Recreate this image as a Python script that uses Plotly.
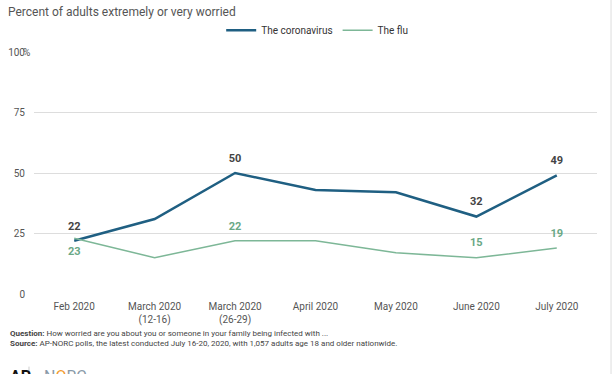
import plotly.graph_objects as go

categories = ["Feb 2020", "March 2020<br>(12-16)", "March 2020<br>(26-29)", "April 2020",
              "May 2020", "June 2020", "July 2020"]
coronavirus = [22, 31, 50, 43, 42, 32, 49]
flu = [23, 15, 22, 22, 17, 15, 19]
corona_labels = ["22", "", "50", "", "", "32", "49"]
flu_labels = ["23", "", "22", "", "", "15", "19"]
flu_label_pos = ["bottom center", "top center", "top center", "top center",
                 "top center", "top center", "top center"]
y_ticks = [0, 25, 50, 75, 100]
y_ticktext = ["0", "25", "50", "75", "100"]
y_max = 100

FONT = "Roboto, Arial, sans-serif"
BLUE = "#1f5f82"
GREEN = "#7db797"

fig = go.Figure()
fig.add_trace(go.Scatter(
    x=categories, y=coronavirus, mode="lines+text+markers", name="The coronavirus",
    line=dict(color=BLUE, width=2.5),
    marker=dict(size=12, color="rgba(0,0,0,0)"),
    text=corona_labels, textposition="top center",
    textfont=dict(family=FONT, size=11, color="#444444", weight="bold"),
    hoverinfo="skip"))
fig.add_trace(go.Scatter(
    x=categories, y=flu, mode="lines+text+markers", name="The flu",
    line=dict(color=GREEN, width=1.5),
    marker=dict(size=12, color="rgba(0,0,0,0)"),
    text=flu_labels, textposition=flu_label_pos,
    textfont=dict(family=FONT, size=11, color="#6aa886", weight="bold"),
    hoverinfo="skip"))

fig.update_layout(
    width=612, height=374,
    margin=dict(l=34, r=15, t=52, b=80, autoexpand=False),
    paper_bgcolor="white", plot_bgcolor="white",
    font=dict(family=FONT, size=10, color="#555555"),
    showlegend=True,
    legend=dict(orientation="h", x=0.503, xanchor="center", y=1.03, yanchor="bottom",
                font=dict(family=FONT, size=10, color="#333333"),
                itemwidth=30, traceorder="normal"),
    xaxis=dict(type="category", range=[-0.5, 6.5], showgrid=False, zeroline=False,
               showline=False, ticks="", automargin=False, ticklabelstandoff=5,
               tickfont=dict(size=10, color="#555555")),
    yaxis=dict(range=[0, y_max], tickvals=y_ticks, ticktext=y_ticktext,
               showgrid=True, gridcolor="#dddddd", gridwidth=1, zeroline=False,
               showline=False, ticks="", ticklabelstandoff=8, automargin=False,
               tickfont=dict(size=10, color="#555555")),
    title=dict(text="Percent of adults extremely or very worried", x=0.013, xanchor="left",
               yref="container", y=0.968, yanchor="middle",
               font=dict(family=FONT, size=12, color="#555555")),
)

fig.add_annotation(xref="paper", yref="y", x=-0.0165, y=y_max, xanchor="left", yanchor="middle",
                   showarrow=False, text="%", font=dict(family=FONT, size=10, color="#555555"),
                   xshift=-4)
fig.add_annotation(xref="paper", yref="paper", x=-0.046, y=-0.135, xanchor="left", yanchor="top",
                   showarrow=False, align="left",
                   text="<b>Question:</b> How worried are you about you or someone in your family being infected with ...<br>"
                        "<b>Source:</b> AP-NORC polls, the latest conducted July 16-20, 2020, with 1,057 adults age 18 and older nationwide.",
                   font=dict(family=FONT, size=8, color="#444444"))
fig.add_annotation(xref="paper", yref="paper", x=-0.046, y=-0.295, xanchor="left", yanchor="top",
                   showarrow=False, text="<b>AP</b>", font=dict(family=FONT, size=16, color="#111111"))
fig.add_annotation(xref="paper", yref="paper", x=0.015, y=-0.295, xanchor="left", yanchor="top",
                   showarrow=False, text="N<span style='color:#f29a2e'>O</span>RC",
                   font=dict(family=FONT, size=16, color="#8a9aa8"))
fig.add_shape(type="line", xref="paper", yref="paper", x0=-0.0089, x1=-0.0089, y0=-0.3, y1=-0.36,
              line=dict(color="#cccccc", width=1))
fig.add_shape(type="line", xref="paper", yref="paper", x0=1.0249, x1=1.0249, y0=-0.35, y1=1.25,
              line=dict(color="#dddddd", width=1))

fig.write_html("out.html", config={"displayModeBar": False},
               post_script="document.body.style.margin='0';")
